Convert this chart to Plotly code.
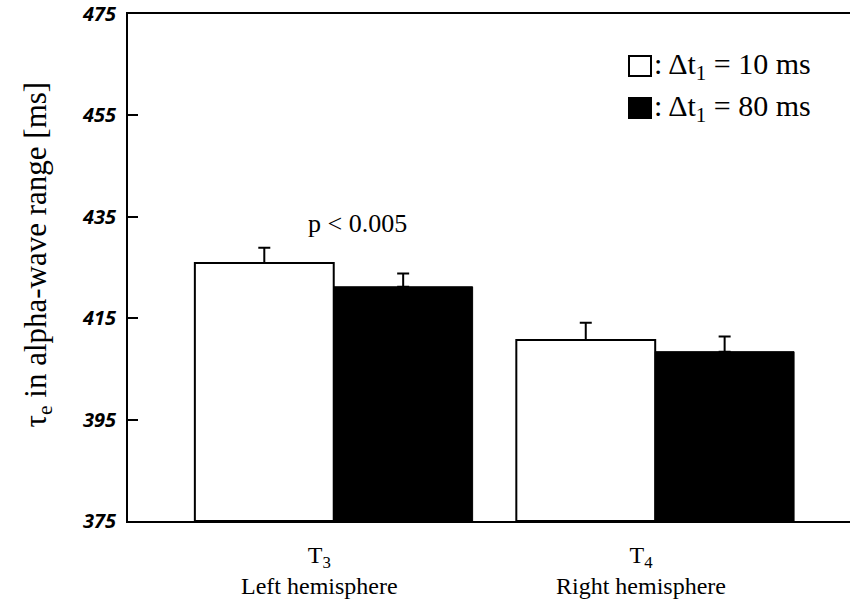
import plotly.graph_objects as go

# Electrode sites and their hemisphere labels
site_names = ["T<sub>3</sub>", "T<sub>4</sub>"]
hemispheres = ["Left hemisphere", "Right hemisphere"]
site_pos = [0, 1]

# Mean tau_e (ms) and upper error (ms) for each inter-stimulus interval
tau_10ms = [425.9, 410.7]
err_10ms = [3.0, 3.4]
tau_80ms = [421.2, 408.4]
err_80ms = [2.6, 3.0]

y_ticks = [375, 395, 415, 435, 455, 475]
Y_BASE = 375

SERIF = "Liberation Serif"
SANS = "Open Sans"

fig = go.Figure()

fig.add_trace(go.Bar(
    x=site_pos, y=[v - Y_BASE for v in tau_10ms], base=Y_BASE,
    marker=dict(color="white", line=dict(color="black", width=2)),
    error_y=dict(type="data", array=err_10ms, arrayminus=[0, 0], symmetric=False,
                 color="black", thickness=2, width=6),
))
fig.add_trace(go.Bar(
    x=site_pos, y=[v - Y_BASE for v in tau_80ms], base=Y_BASE,
    marker=dict(color="black", line=dict(color="black", width=1)),
    error_y=dict(type="data", array=err_80ms, arrayminus=[0, 0], symmetric=False,
                 color="black", thickness=2, width=6),
))

fig.update_layout(
    width=850, height=604,
    margin=dict(l=128, r=0, t=14, b=83),
    paper_bgcolor="white", plot_bgcolor="white",
    barmode="group", bargap=0.136, bargroupgap=0,
    showlegend=False,
)

fig.update_xaxes(
    range=[-0.64, 1.606],
    tickvals=site_pos, showticklabels=False,
    ticks="", showgrid=False, zeroline=False,
    showline=True, linecolor="black", linewidth=2, mirror=True,
)
fig.update_yaxes(
    range=[375, 475],
    tickvals=y_ticks, ticktext=[str(v) for v in y_ticks],
    ticks="inside", ticklen=10, tickwidth=2, tickcolor="black",
    showgrid=False, zeroline=False,
    showline=True, linecolor="black", linewidth=2,
    tickfont=dict(family=SANS, size=20, color="black", weight="bold", style="italic"),
    ticklabelstandoff=6,
)

# y-axis title, rotated
fig.add_annotation(x=-0.125, y=0.525, xref="paper", yref="paper", textangle=-90,
                   text="τ<sub>e</sub> in alpha-wave range [ms]", showarrow=False,
                   xanchor="center", yanchor="middle",
                   font=dict(family=SERIF, size=31, color="black"))

# two-line category labels under each site
for xp, site, hemi in zip(site_pos, site_names, hemispheres):
    fig.add_annotation(x=xp, y=-0.038, xref="x", yref="paper",
                       text=f"{site}<br>{hemi}",
                       showarrow=False, xshift=-14, yanchor="top", align="center",
                       font=dict(family=SERIF, size=24, color="black"))

# significance note above the left-hemisphere pair
fig.add_annotation(x=0.075, y=433.6, xref="x", yref="y", text="p < 0.005",
                   showarrow=False, font=dict(family=SERIF, size=26, color="black"))

# key in the upper right
def px_x(p):
    return (p - 128) / 722

def px_y(p):
    return (521 - p) / 507

key_rows = [("white", ": Δt<sub>1</sub> = 10 ms", 66), ("black", ": Δt<sub>1</sub> = 80 ms", 108)]
for fill, label, cy in key_rows:
    fig.add_shape(type="rect", xref="paper", yref="paper",
                  x0=px_x(629), x1=px_x(651), y0=px_y(cy + 10), y1=px_y(cy - 10),
                  fillcolor=fill, line=dict(color="black", width=2))
    fig.add_annotation(x=px_x(652), y=px_y(cy), xref="paper", yref="paper",
                       xanchor="left", yanchor="middle", text=label, showarrow=False,
                       font=dict(family=SERIF, size=30, color="black"))

fig.write_html("out.html")
